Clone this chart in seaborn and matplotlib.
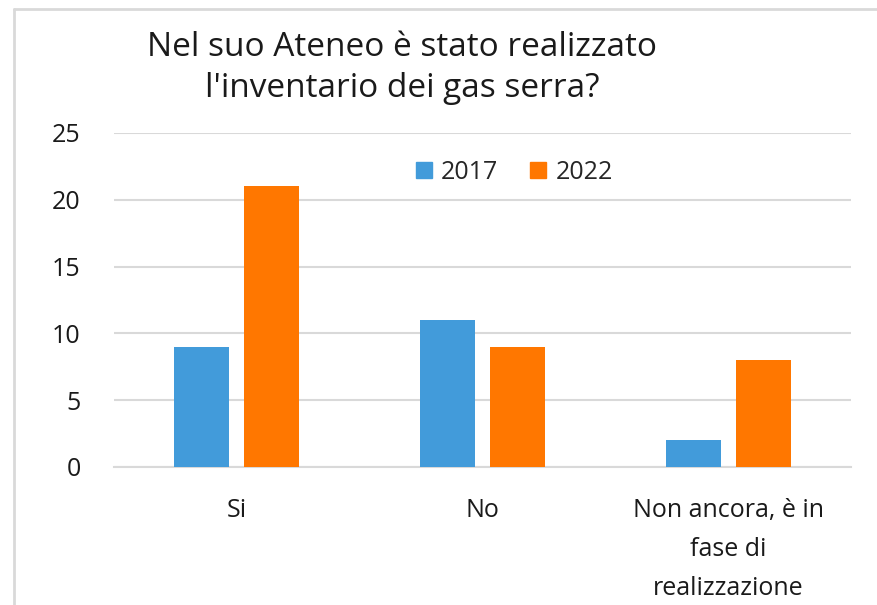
import pandas as pd
import matplotlib.pyplot as plt
import seaborn as sns
from matplotlib.lines import Line2D

# chart data
categories = ["Si", "No", "Non ancora, è in\nfase di\nrealizzazione"]
years = ["2017", "2022"]
values_2017 = [9, 11, 2]
values_2022 = [21, 9, 8]
colors = ["#429BDA", "#FF7700"]

sns.set_theme(style="white")
plt.rcParams["font.family"] = ["Open Sans", "DejaVu Sans"]

df = pd.DataFrame({
    "categoria": categories * 2,
    "anno": [years[0]] * 3 + [years[1]] * 3,
    "valore": values_2017 + values_2022,
})

fig = plt.figure(figsize=(8.77, 6.05), dpi=100)
ax = fig.add_axes([114 / 877, 1 - 467 / 605, 737 / 877, 334 / 605])

sns.barplot(data=df, x="categoria", y="valore", hue="anno",
            palette=colors, saturation=1, width=0.571, gap=0.214,
            linewidth=0, ax=ax, zorder=3)

ax.set_ylim(0, 25)
ax.set_yticks(range(0, 26, 5))
ax.set_xlim(-0.5, 2.5)
ax.yaxis.grid(True, color="#d9d9d9", linewidth=1.5, zorder=0)
ax.set_axisbelow(True)
for side in ["top", "right", "left"]:
    ax.spines[side].set_visible(False)
ax.spines["bottom"].set_color("#d9d9d9")
ax.spines["bottom"].set_linewidth(1.5)
ax.tick_params(axis="y", length=0, pad=24, labelsize=18, labelcolor="#1a1a1a")
ax.tick_params(axis="x", length=0, pad=22, labelsize=18, labelcolor="#1a1a1a")
for lab in ax.get_xticklabels():
    lab.set_linespacing(1.75)
ax.set_xlabel("")
ax.set_ylabel("")

# legend
ax.get_legend().remove()
handles = [Line2D([], [], marker="s", linestyle="", markersize=12,
                  markerfacecolor=c, markeredgecolor=c) for c in colors]
ax.legend(handles, years, loc="center", bbox_to_anchor=(0.542, 0.883),
          ncol=2, frameon=False, fontsize=18, handletextpad=0.3,
          columnspacing=1.2, handlelength=0.8)

# title
fig.text(402 / 877, 1 - 68 / 605,
         "Nel suo Ateneo è stato realizzato\nl'inventario dei gas serra?",
         ha="center", va="center", fontsize=24, color="#1a1a1a",
         multialignment="center", linespacing=1.35)

# chart frame lines
fig.add_artist(Line2D([14 / 877, 1], [1 - 9 / 605, 1 - 9 / 605],
                      color="#d9d9d9", linewidth=2, transform=fig.transFigure))
fig.add_artist(Line2D([14 / 877, 14 / 877], [0, 1 - 9 / 605],
                      color="#d9d9d9", linewidth=2, transform=fig.transFigure))

fig.savefig("out.png", dpi=100)
